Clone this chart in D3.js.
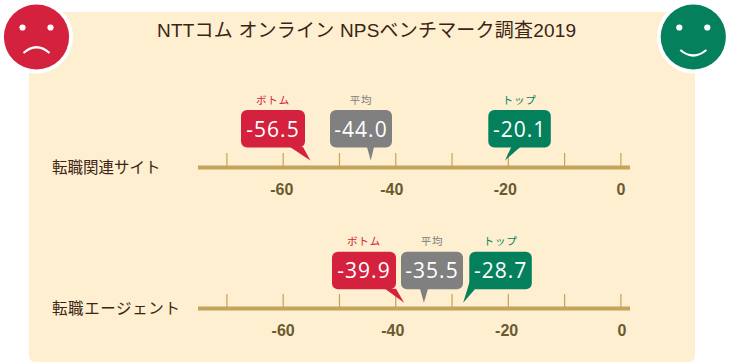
<!DOCTYPE html>
<html>
<head>
<meta charset="utf-8">
<script src="https://cdn.jsdelivr.net/npm/d3@7/dist/d3.min.js"></script>
<style>
html, body { margin: 0; padding: 0; background: #fff; }
svg { display: block; }
text { font-family: "Noto Sans CJK JP", sans-serif; }
</style>
</head>
<body>
<svg id="chart" width="730" height="363"></svg>
<script>
const titleText = "NTTコム オンライン NPSベンチマーク調査2019";
const categories = ["転職関連サイト", "転職エージェント"];
const seriesNames = ["ボトム", "平均", "トップ"];
const bottomValues = [-56.5, -39.9];
const averageValues = [-44.0, -35.5];
const topValues = [-20.1, -28.7];
const tickValues = [-70, -60, -50, -40, -30, -20, -10, 0];
const labelValues = [-60, -40, -20, 0];

const RED = "#d4213d", GREY = "#808080", GREEN = "#05805c";
const seriesColors = [RED, GREY, GREEN];
const TAN = "#c4a35a";

const svg = d3.select("#chart");
const x = d3.scaleLinear().domain([-70, 0]).range([226.4, 620.4]);

// background panel, square top corners hidden behind the faces
svg.append("path")
  .attr("d", "M29,12H695V356a6,6 0 0 1 -6,6H35a6,6 0 0 1 -6,-6Z")
  .attr("fill", "#fdefcf");

svg.append("text")
  .attr("x", 157).attr("y", 37)
  .style("font-family", "'Liberation Sans', 'Noto Sans CJK JP', sans-serif")
  .attr("font-size", 19)
  .attr("letter-spacing", 0.2)
  .attr("fill", "#3c2415")
  .text(titleText);

// faces
const drawFace = function(cx, color, mouth) {
  const g = svg.append("g").attr("transform", "translate(" + cx + ",37)");
  g.append("circle").attr("r", 36.5).attr("fill", "#fff");
  g.append("circle").attr("r", 32.6).attr("fill", color);
  g.selectAll("circle.eye").data([-14, 14]).enter().append("circle")
    .attr("class", "eye").attr("cx", d => d).attr("cy", -9.5).attr("r", 3.1).attr("fill", "#fff");
  g.append("path").attr("d", mouth).attr("fill", "none")
    .attr("stroke", "#fff").attr("stroke-width", 2.2);
};
drawFace(36.5, RED, "M-13,16Q0,4.5 13,16");
drawFace(693.3, GREEN, "M-13,13Q0,24 13,13");

// one row: axis, category label and three bubbles
const drawRow = function(i, o) {
  const row = svg.append("g");
  const axisY = o.axisY;

  row.append("text")
    .attr("x", 52).attr("y", axisY + 5.5)
    .attr("font-size", 15.5)
    .attr("letter-spacing", o.labelSpacing)
    .attr("fill", "#3c2415")
    .text(categories[i]);

  row.append("line")
    .attr("x1", 198).attr("x2", 630)
    .attr("y1", axisY).attr("y2", axisY)
    .attr("stroke", TAN).attr("stroke-width", 4);

  const ticks = row.append("g")
    .attr("transform", "translate(0," + axisY + ")")
    .call(d3.axisTop(x).tickValues(tickValues).tickSize(14.5).tickFormat(""));
  ticks.select(".domain").remove();
  ticks.selectAll(".tick line").attr("stroke", TAN).attr("stroke-width", 1.2);

  const labels = row.append("g")
    .attr("transform", "translate(0," + axisY + ")")
    .call(d3.axisBottom(x).tickValues(labelValues).tickSize(0).tickPadding(16).tickFormat(d => String(d)));
  labels.select(".domain").remove();
  // the labels are not quite centred on their ticks in the original
  labels.selectAll(".tick text")
    .attr("x", (d, n) => o.labelDx[n])
    .style("font-family", "'Liberation Sans', sans-serif")
    .attr("font-size", 16)
    .attr("font-weight", "bold")
    .attr("fill", "#6b5a2f");

  const vals = [bottomValues[i], averageValues[i], topValues[i]];
  const top = o.top, bottom = o.top + 37.5;
  vals.forEach((v, k) => {
    const left = o.left[k], w = o.width[k];
    row.append("rect")
      .attr("x", left).attr("y", top)
      .attr("width", w).attr("height", 37.5)
      .attr("rx", 6)
      .attr("fill", seriesColors[k]);

    // tail runs from the bubble's lower edge down to the value on the axis
    const tail = d3.path();
    tail.moveTo(left + o.tailA[k], bottom - o.tailLift[k]);
    tail.lineTo(x(v) + o.tipDx[k], o.tipY);
    tail.lineTo(left + o.tailB[k], bottom - 0.5);
    tail.closePath();
    row.append("path").attr("d", tail.toString()).attr("fill", seriesColors[k]);

    row.append("text")
      .attr("x", left + w / 2).attr("y", top + 26.5)
      .attr("text-anchor", "middle")
      .style("font-family", "'Open Sans', sans-serif")
      .attr("font-size", 21)
      .attr("letter-spacing", 1)
      .attr("fill", "#fff")
      .text(v.toFixed(1));

    row.append("text")
      .attr("x", left + w / 2).attr("y", top - 6.5)
      .attr("text-anchor", "middle")
      .attr("font-size", 10.5)
      .attr("letter-spacing", 0.8)
      .attr("fill", seriesColors[k])
      .text(seriesNames[k]);
  });
};

drawRow(0, {
  axisY: 167.5, top: 110, tipY: 160.5, labelSpacing: 0, labelDx: [-1.4, -4, -3, 0],
  left: [241, 330, 488.3], width: [64, 62, 62.5],
  tipDx: [8, -2, -2.3], tailA: [49, 37, 23], tailB: [62, 44, 32], tailLift: [0.5, 0.5, 0.5]
});
drawRow(1, {
  axisY: 308.4, top: 251.7, tipY: 302.8, labelSpacing: 0.6, labelDx: [0, -3, -1.7, 1],
  left: [332, 401, 469.3], width: [64, 62, 62.5],
  tipDx: [8.3, 3.3, 4.3], tailA: [53, 19, 0.5], tailB: [64, 27, 6], tailLift: [0.5, 0.5, 8]
});
</script>
</body>
</html>
